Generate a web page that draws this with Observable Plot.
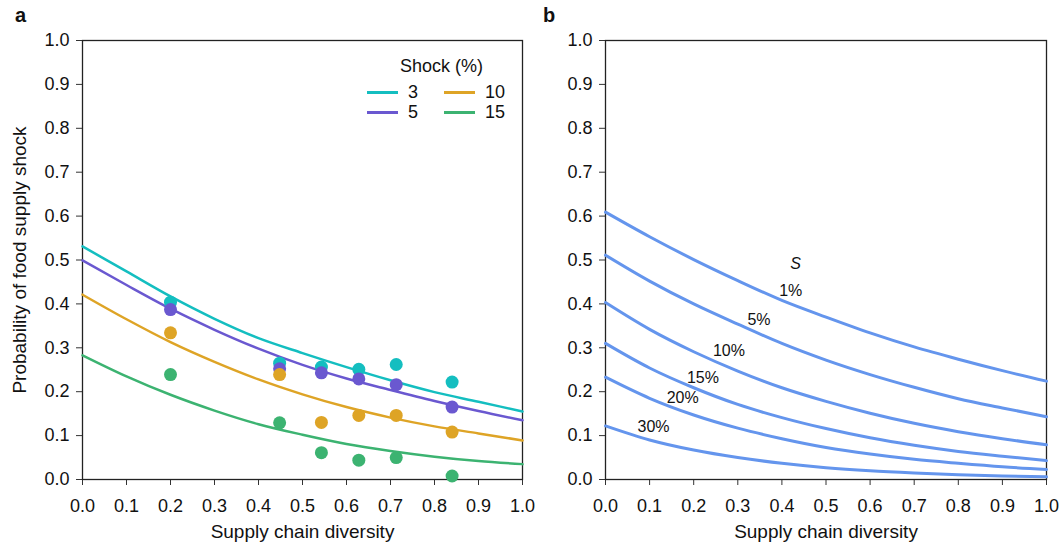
<!DOCTYPE html>
<html><head><meta charset="utf-8">
<script src="https://cdn.jsdelivr.net/npm/d3@7"></script>
<script src="https://cdn.jsdelivr.net/npm/@observablehq/plot@0.6"></script>
<style>
body{margin:0;background:#fff;font-family:"Liberation Sans",Arial,Helvetica,sans-serif;}
#wrap{position:relative;width:1062px;height:549px;display:flex;background:#fff;}
#wrap svg{overflow:visible;}
.abs{position:absolute;white-space:nowrap;line-height:1;color:#111;}
.sw{position:absolute;height:3px;width:31px;}
</style></head><body><div id="wrap"></div>
<script>
// ---- shared ticks ----
const xTicks = [0,0.1,0.2,0.3,0.4,0.5,0.6,0.7,0.8,0.9,1.0];
const yTicks = [0,0.1,0.2,0.3,0.4,0.5,0.6,0.7,0.8,0.9,1.0];
const curveX = [0,0.1,0.2,0.3,0.4,0.5,0.6,0.7,0.8,0.9,1.0];

// ---- panel a ----
const shockLevels = ["3","5","10","15"];
const shockColors = ["#14BEC0","#6A58D0","#DEA426","#3CB371"];
const fit3  = [0.531,0.474,0.417,0.366,0.322,0.288,0.256,0.226,0.199,0.177,0.155];
const fit5  = [0.499,0.443,0.389,0.341,0.298,0.261,0.230,0.204,0.179,0.156,0.135];
const fit10 = [0.421,0.365,0.313,0.268,0.228,0.194,0.165,0.141,0.121,0.105,0.089];
const fit15 = [0.283,0.235,0.193,0.157,0.126,0.102,0.081,0.065,0.052,0.042,0.035];
const obsX  = [0.200,0.448,0.543,0.628,0.713,0.840];
const obs3  = [0.404,0.265,0.256,0.251,0.262,0.222];
const obs5  = [0.387,0.252,0.243,0.229,0.216,0.165];
const obs10 = [0.334,0.239,0.130,0.146,0.146,0.108];
const obs15 = [0.239,0.129,0.061,0.044,0.050,0.008];

// ---- panel b ----
const sLevels = ["1%","5%","10%","15%","20%","30%"];
const s1  = [0.609,0.553,0.501,0.453,0.408,0.370,0.334,0.302,0.274,0.248,0.224];
const s5  = [0.511,0.452,0.400,0.354,0.310,0.272,0.239,0.210,0.184,0.163,0.143];
const s10 = [0.403,0.342,0.291,0.247,0.209,0.178,0.151,0.128,0.109,0.093,0.079];
const s15 = [0.310,0.254,0.209,0.171,0.141,0.116,0.095,0.078,0.064,0.053,0.043];
const s20 = [0.233,0.185,0.147,0.117,0.093,0.073,0.058,0.046,0.037,0.029,0.023];
const s30 = [0.122,0.090,0.067,0.050,0.037,0.027,0.020,0.015,0.011,0.008,0.006];
const sLabelX = [0.420,0.348,0.280,0.221,0.175,0.109];
const sLabelY = [0.430,0.364,0.292,0.232,0.186,0.121];
const sTitle = "S", sTitleX = 0.431, sTitleY = 0.492;

const xTitle = "Supply chain diversity";
const yTitle = "Probability of food supply shock";
const FONT = '"Liberation Sans", Arial, Helvetica, sans-serif';

const fitSeries = [fit3, fit5, fit10, fit15];
const obsSeries = [obs3, obs5, obs10, obs15];
const fitData = shockLevels.flatMap((s, i) => curveX.map((x, j) => ({shock: s, x, y: fitSeries[i][j]})));
const obsData = shockLevels.flatMap((s, i) => obsX.map((x, j) => ({shock: s, x, y: obsSeries[i][j]})));

const sSeries = [s1, s5, s10, s15, s20, s30];
const sData = sLevels.flatMap((s, i) => curveX.map((x, j) => ({s, x, y: sSeries[i][j]})));
const sLabels = sLevels.map((s, i) => ({s, x: sLabelX[i], y: sLabelY[i]}));

const fmt = d3.format(".1f");
function axes() {
  return [
    Plot.axisX({ticks: xTicks, tickFormat: fmt, tickSize: 6, tickPadding: 14, label: null, stroke: "#333"}),
    Plot.axisY({ticks: yTicks, tickFormat: fmt, tickSize: 6, tickPadding: 7, label: null, stroke: "#333"}),
    Plot.frame({stroke: "#222", strokeWidth: 1.3}),
    Plot.text([xTitle], {frameAnchor: "bottom", dy: 58, fontSize: 19, fill: "#111"})
  ];
}

const plotA = Plot.plot({
  width: 531, height: 549,
  marginLeft: 82, marginRight: 9, marginTop: 40, marginBottom: 70,
  x: {domain: [0, 1]}, y: {domain: [0, 1]},
  color: {domain: shockLevels, range: shockColors},
  style: {fontFamily: FONT, fontSize: "18px", color: "#111", background: "none", overflow: "visible"},
  marks: [
    ...axes(),
    Plot.text([yTitle], {frameAnchor: "left", textAnchor: "middle", rotate: -90, dx: -63, fontSize: 19, fill: "#111"}),
    Plot.line(fitData, {x: "x", y: "y", z: "shock", stroke: "shock", strokeWidth: 2.5, curve: "monotone-x"}),
    Plot.dot(obsData, {x: "x", y: "y", fill: "shock", r: 6.5})
  ]
});

const plotB = Plot.plot({
  width: 531, height: 549,
  marginLeft: 74, marginRight: 16, marginTop: 40, marginBottom: 70,
  x: {domain: [0, 1]}, y: {domain: [0, 1]},
  style: {fontFamily: FONT, fontSize: "18px", color: "#111", background: "none", overflow: "visible"},
  marks: [
    ...axes(),
    Plot.line(sData, {x: "x", y: "y", z: "s", stroke: "#6495ED", strokeWidth: 3, curve: "monotone-x"}),
    Plot.text(sLabels, {x: "x", y: "y", text: "s", fontSize: 16, fill: "#111"}),
    Plot.text([sTitle], {x: () => sTitleX, y: () => sTitleY, fontSize: 16, fontStyle: "italic", fill: "#111"})
  ]
});

const wrap = document.getElementById("wrap");
wrap.appendChild(plotA);
wrap.appendChild(plotB);

function addText(txt, left, top, size, extra) {
  const d = document.createElement("div");
  d.className = "abs";
  d.textContent = txt;
  d.style.left = left + "px"; d.style.top = top + "px"; d.style.fontSize = size + "px";
  if (extra) Object.assign(d.style, extra);
  wrap.appendChild(d);
}
function addSwatch(color, left, top) {
  const d = document.createElement("div");
  d.className = "sw"; d.style.background = color;
  d.style.left = left + "px"; d.style.top = top + "px";
  wrap.appendChild(d);
}
addText("a", 15, 5, 20, {fontWeight: "bold"});
addText("b", 543, 5, 20, {fontWeight: "bold"});
// legend
addText("Shock (%)", 400, 57, 18);
const legLeft = [367, 367, 444, 444];
const legTop = [91, 111, 91, 111];
const legTextLeft = [408, 408, 485, 485];
shockLevels.forEach((s, i) => {
  addSwatch(shockColors[i], legLeft[i], legTop[i]);
  addText(s, legTextLeft[i], legTop[i] - 8, 18);
});
</script></body></html>
